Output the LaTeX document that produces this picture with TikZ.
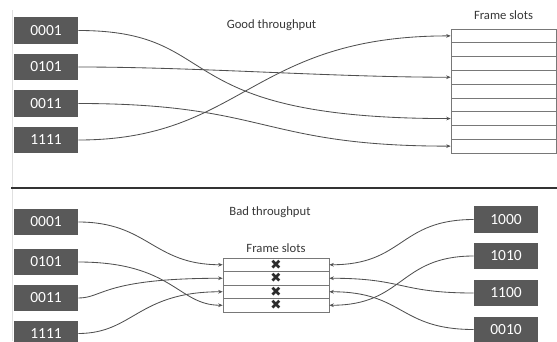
\documentclass[tikz,border=0pt]{standalone}
\usepackage{fontspec}
\setmainfont{Carlito}
\newfontfamily\symfont{DejaVu Sans}
\usetikzlibrary{arrows.meta}
\definecolor{boxgray}{RGB}{89,89,89}
\definecolor{linegray}{RGB}{80,80,80}
\definecolor{slotgray}{RGB}{120,120,120}
\definecolor{textgray}{RGB}{55,55,55}

\begin{document}
\begin{tikzpicture}[x=0.025cm, y=-0.025cm,
    code/.style={shape=rectangle, fill=boxgray, text=white, inner sep=0pt,
      minimum width=1.6cm, minimum height=0.65cm, font=\fontsize{11}{13}\selectfont},
    topslot/.style={shape=rectangle, draw=slotgray, inner sep=0pt,
      minimum width=2.625cm, minimum height=0.3445cm},
    botslot/.style={shape=rectangle, draw=slotgray, inner sep=0pt,
      minimum width=2.65cm, minimum height=0.3375cm, text=textgray!80!black,
      font=\fontsize{9.5}{9.5}\symfont},
    lbl/.style={text=textgray, anchor=base, font=\fontsize{9}{11}\selectfont},
    link/.style={draw=linegray, line width=0.6pt, -{Stealth[length=3.2pt,width=2.6pt]}}]
      \clip (0,0) rectangle (557,341);
      \draw[black!12] (12,10) -- (12,341);

      % good throughput
      \node[lbl] (good) at (271.5,29) {Good throughput};
      \node[lbl] (topslots) at (503.5,19.5) {Frame slots};
      \node[code] (top0001) at (46,30.5) {0001};
      \node[code] (top0101) at (46,67) {0101};
      \node[code] (top0011) at (46,103.5) {0011};
      \node[code] (top1111) at (46,140) {1111};
      \foreach \i in {1,...,9}
        \node[topslot] (gs\i) at (503.5,{29+(\i-0.5)*13.78}) {};

      \draw[link] (top0001.east) .. controls +(150,0) and +(-290,0) .. (gs7.west);
      \draw[link] (top0101.east) .. controls +(120,0) and +(-120,0) .. (gs4.west);
      \draw[link] (top0011.east) .. controls +(190,0) and +(-190,0) .. (gs9.west);
      \draw[link] (top1111.east) .. controls +(165,0) and +(-200,0) .. (gs1.west);

      \draw[line width=1.5pt, black!80] (11,188) -- (557,188);

      % bad throughput
      \node[lbl] (bad) at (270,215) {Bad throughput};
      \node[lbl] (botslots) at (276,252) {Frame slots};
      \node[code] (bot0001) at (46,222) {0001};
      \node[code] (bot0101) at (46,262) {0101};
      \node[code] (bot0011) at (46,298) {0011};
      \node[code] (bot1111) at (46,333.5) {1111};
      \node[code] (bot1000) at (506,219.5) {1000};
      \node[code] (bot1010) at (506,256) {1010};
      \node[code] (bot1100) at (506,293) {1100};
      \node[code] (bot0010) at (506,329.5) {0010};
      \foreach \i in {1,...,4}
        \node[botslot] (bs\i) at (276,{258+(\i-0.5)*13.5}) {✖};

      \draw[link] (bot0001.east) .. controls +(70,0) and +(-70,0) .. (bs1.west);
      \draw[link] (bot0101.east) .. controls +(95,0) and +(-45,0) .. (bs4.west);
      \draw[link] (bot0011.east) .. controls +(25,0) and +(-120,0) .. (bs2.west);
      \draw[link] (bot1111.east) .. controls +(55,0) and +(-85,0) .. (bs3.west);
      \draw[link] (bot1000.west) .. controls +(-75,0) and +(75,0) .. (bs1.east);
      \draw[link] (bot1010.west) .. controls +(-75,0) and +(75,0) .. (bs4.east);
      \draw[link] (bot1100.west) .. controls +(-75,0) and +(75,0) .. (bs2.east);
      \draw[link] (bot0010.west) .. controls +(-75,0) and +(75,0) .. (bs3.east);
\end{tikzpicture}
\end{document}
